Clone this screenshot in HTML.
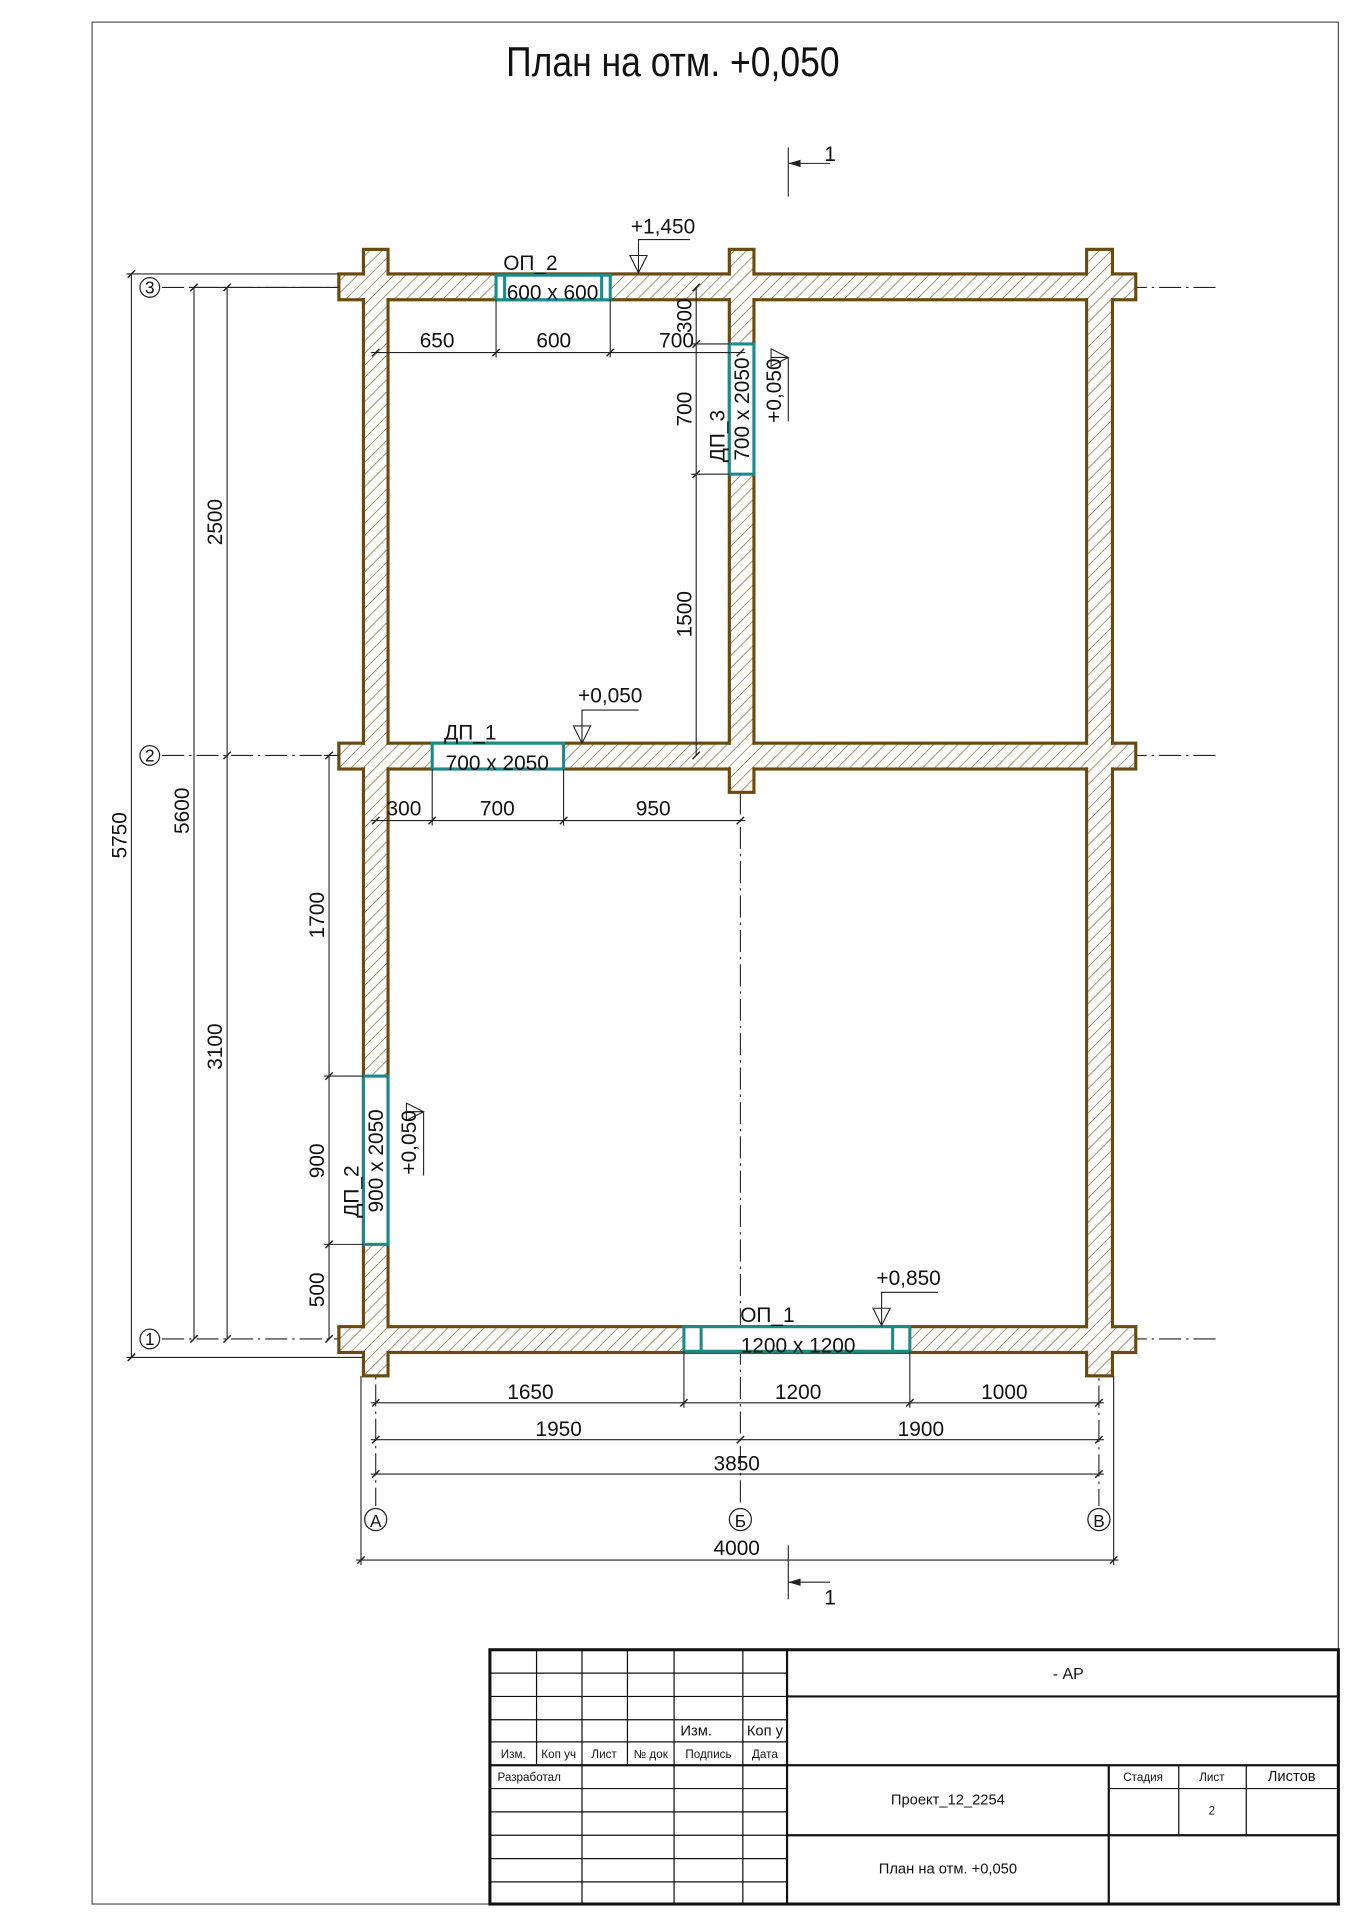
<!DOCTYPE html>
<html><head><meta charset="utf-8"><style>
html,body{margin:0;padding:0;background:#fff;}
svg{display:block;}
text{font-family:"Liberation Sans Narrow","Liberation Sans",sans-serif;fill:#111;}
</style></head><body>
<svg width="1358" height="1920" viewBox="0 0 1106 1563" xmlns="http://www.w3.org/2000/svg" preserveAspectRatio="none">
<defs>
<pattern id="h" patternUnits="userSpaceOnUse" width="7" height="7" patternTransform="rotate(45)">
<rect width="7" height="7" fill="#fff"/>
<line x1="0" y1="0" x2="0" y2="7" stroke="#7a5a1a" stroke-width="1"/>
</pattern>
</defs>
<rect x="0" y="0" width="1106" height="1563" fill="#fff"/>
<!-- frame -->
<rect x="75" y="18" width="1015" height="1532" fill="none" stroke="#555" stroke-width="1"/>
<text x="548" y="62" font-size="34" text-anchor="middle" transform="translate(548 0) scale(0.85 1) translate(-548 0)">План на отм. +0,050</text>

<!-- axis lines -->
<g stroke="#222" stroke-width="0.9" stroke-dasharray="18 4 2 4" fill="none">
<line x1="132" y1="234" x2="990" y2="234"/>
<line x1="132" y1="615" x2="990" y2="615"/>
<line x1="132" y1="1090" x2="990" y2="1090"/>
<line x1="306" y1="203" x2="306" y2="1226"/>
<line x1="603" y1="645" x2="603" y2="1226"/>
<line x1="895" y1="1100" x2="895" y2="1226"/>
</g>
<g fill="#fff" stroke="#222" stroke-width="1">
<circle cx="122" cy="234" r="8"/><circle cx="122" cy="615" r="8"/><circle cx="122" cy="1090" r="8"/>
<circle cx="306" cy="1237" r="9"/><circle cx="603" cy="1237" r="9"/><circle cx="895" cy="1237" r="9"/>
</g>
<g font-size="14" text-anchor="middle">
<text x="122" y="239">3</text><text x="122" y="620">2</text><text x="122" y="1095">1</text>
<text x="306" y="1243">А</text><text x="603" y="1243">Б</text><text x="895" y="1243">В</text>
</g>

<!-- walls -->
<g fill="url(#h)" stroke="#6b4a10" stroke-width="2.6">
<rect x="276" y="223" width="649" height="21"/>
<rect x="276" y="605" width="649" height="21"/>
<rect x="276" y="1080" width="649" height="21"/>
<rect x="296" y="203" width="20" height="917"/>
<rect x="594" y="203" width="20" height="442"/>
<rect x="885" y="203" width="21" height="917"/>
</g>
<g fill="url(#h)">
<rect x="277.4" y="224.4" width="646.2" height="18.2"/>
<rect x="277.4" y="606.4" width="646.2" height="18.2"/>
<rect x="277.4" y="1081.4" width="646.2" height="18.2"/>
<rect x="297.4" y="204.4" width="17.2" height="914.2"/>
<rect x="595.4" y="204.4" width="17.2" height="439.2"/>
<rect x="886.4" y="204.4" width="18.2" height="914.2"/>
</g>

<!-- openings -->
<g fill="#fff" stroke="#1a8a8a" stroke-width="2.5">
<rect x="404" y="224" width="93" height="20"/>
<line x1="411" y1="224" x2="411" y2="244"/><line x1="490" y1="224" x2="490" y2="244"/>
<rect x="594" y="280" width="20" height="106"/>
<rect x="352" y="605" width="107" height="21"/>
<rect x="296" y="876" width="20" height="137"/>
<rect x="557" y="1080" width="184" height="20"/>
<line x1="571" y1="1080" x2="571" y2="1100"/><line x1="727" y1="1080" x2="727" y2="1100"/>
</g>
<g font-size="17" text-anchor="middle">
<text x="432" y="220">ОП_2</text>
<text x="450" y="244">600 x 600</text>
<text x="383" y="602">ДП_1</text>
<text x="405" y="627">700 x 2050</text>
<text x="625" y="1076">ОП_1</text>
<text x="650" y="1101">1200 x 1200</text>
<text transform="translate(610 333) rotate(-90)">700 x 2050</text>
<text transform="translate(590 355) rotate(-90)">ДП_3</text>
<text transform="translate(312 945) rotate(-90)">900 x 2050</text>
<text transform="translate(292 970) rotate(-90)">ДП_2</text>
</g>

<!-- dimension lines -->
<g stroke="#222" stroke-width="0.9" fill="none">
<!-- left ext -->
<line x1="103" y1="223" x2="276" y2="223"/>
<line x1="154" y1="234" x2="276" y2="234"/>
<line x1="103" y1="1105" x2="296" y2="1105"/>
<line x1="264" y1="615" x2="276" y2="615"/>
<line x1="264" y1="876" x2="296" y2="876"/>
<line x1="264" y1="1013" x2="296" y2="1013"/>
<line x1="107" y1="223" x2="107" y2="1105"/>
<line x1="158" y1="234" x2="158" y2="1090"/>
<line x1="185" y1="234" x2="185" y2="1090"/>
<line x1="268" y1="615" x2="268" y2="1090"/>
<!-- mid vertical -->
<line x1="567" y1="234" x2="567" y2="615"/>
<line x1="563" y1="280" x2="594" y2="280"/>
<line x1="563" y1="386" x2="594" y2="386"/>
<!-- top horizontal -->
<line x1="302" y1="287" x2="607" y2="287"/>
<line x1="404" y1="244" x2="404" y2="291"/>
<line x1="497" y1="244" x2="497" y2="291"/>
<line x1="302" y1="668" x2="607" y2="668"/>
<line x1="352" y1="626" x2="352" y2="672"/>
<line x1="459" y1="626" x2="459" y2="672"/>
<!-- bottom -->
<line x1="302" y1="1142" x2="899" y2="1142"/>
<line x1="557" y1="1100" x2="557" y2="1146"/>
<line x1="741" y1="1100" x2="741" y2="1146"/>
<line x1="302" y1="1172" x2="899" y2="1172"/>
<line x1="302" y1="1200" x2="899" y2="1200"/>
<line x1="290" y1="1270" x2="911" y2="1270"/>
<line x1="294" y1="1120" x2="294" y2="1274"/>
<line x1="907" y1="1120" x2="907" y2="1274"/>
<!-- ticks -->
<g stroke-width="1.2">
<path d="M104 226l6-6M104 1108l6-6M155 237l6-6M155 1093l6-6M182 237l6-6M182 618l6-6M182 1093l6-6M265 618l6-6M265 879l6-6M265 1016l6-6M265 1093l6-6"/>
<path d="M564 237l6-6M564 283l6-6M564 389l6-6M564 618l6-6"/>
<path d="M303 290l6-6M401 290l6-6M494 290l6-6M600 290l6-6M303 671l6-6M349 671l6-6M456 671l6-6M600 671l6-6"/>
<path d="M303 1145l6-6M554 1145l6-6M738 1145l6-6M892 1145l6-6M303 1175l6-6M600 1175l6-6M892 1175l6-6M303 1203l6-6M892 1203l6-6M291 1273l6-6M904 1273l6-6"/>
</g>
<!-- section marks -->
<line x1="642" y1="120" x2="642" y2="160"/>
<line x1="642" y1="133" x2="676" y2="133"/>
<line x1="642" y1="1258" x2="642" y2="1302"/>
<line x1="642" y1="1288" x2="676" y2="1288"/>
<!-- level marks -->
<path d="M562 195H520V222M513 208h14l-7 14z"/>
<path d="M520 578H474V605M467 591h14l-7 14z"/>
<path d="M764 1052H718V1079M711 1065h14l-7 14z"/>
<path d="M642 291V343M628 291h14M628 284v14l14-7z"/>
<path d="M345 905V957M331 905h14M331 898v14l14-7z"/>
</g>
<path d="M642 133l10-3v6z M642 1288l10-3v6z" fill="#222"/>
<g font-size="17" text-anchor="middle">
<text x="676" y="131">1</text><text x="676" y="1306">1</text>
<text x="540" y="190">+1,450</text>
<text x="497" y="572">+0,050</text>
<text x="740" y="1046">+0,850</text>
<text transform="translate(636 318) rotate(-90)">+0,050</text>
<text transform="translate(339 930) rotate(-90)">+0,050</text>
<text transform="translate(103 680) rotate(-90)">5750</text>
<text transform="translate(154 660) rotate(-90)">5600</text>
<text transform="translate(181 425) rotate(-90)">2500</text>
<text transform="translate(181 852) rotate(-90)">3100</text>
<text transform="translate(264 745) rotate(-90)">1700</text>
<text transform="translate(264 945) rotate(-90)">900</text>
<text transform="translate(264 1050) rotate(-90)">500</text>
<text transform="translate(563 257) rotate(-90)">300</text>
<text transform="translate(563 333) rotate(-90)">700</text>
<text transform="translate(563 500) rotate(-90)">1500</text>
<text x="356" y="283">650</text><text x="451" y="283">600</text><text x="551" y="283">700</text>
<text x="329" y="664">300</text><text x="405" y="664">700</text><text x="532" y="664">950</text>
<text x="432" y="1139">1650</text><text x="650" y="1139">1200</text><text x="818" y="1139">1000</text>
<text x="455" y="1169">1950</text><text x="750" y="1169">1900</text>
<text x="600" y="1197">3850</text>
<text x="600" y="1266">4000</text>
</g>

<!-- title block -->
<g stroke="#111" fill="none">
<rect x="399" y="1343" width="691" height="207" stroke-width="2.5"/>
<g stroke-width="1">
<line x1="437" y1="1343" x2="437" y2="1437"/>
<line x1="474" y1="1343" x2="474" y2="1550"/>
<line x1="511" y1="1343" x2="511" y2="1437"/>
<line x1="549" y1="1343" x2="549" y2="1550"/>
<line x1="605" y1="1343" x2="605" y2="1550"/>
<line x1="399" y1="1362" x2="641" y2="1362"/>
<line x1="399" y1="1381" x2="641" y2="1381"/>
<line x1="399" y1="1400" x2="641" y2="1400"/>
<line x1="399" y1="1418" x2="641" y2="1418"/>
<line x1="399" y1="1456" x2="641" y2="1456"/>
<line x1="399" y1="1475" x2="641" y2="1475"/>
<line x1="399" y1="1494" x2="641" y2="1494"/>
<line x1="399" y1="1513" x2="641" y2="1513"/>
<line x1="399" y1="1532" x2="641" y2="1532"/>
<line x1="903" y1="1456" x2="1090" y2="1456"/>
<line x1="960" y1="1437" x2="960" y2="1494"/>
<line x1="1015" y1="1437" x2="1015" y2="1494"/>
</g>
<g stroke-width="1.8">
<line x1="641" y1="1343" x2="641" y2="1550"/>
<line x1="641" y1="1381" x2="1090" y2="1381"/>
<line x1="399" y1="1437" x2="1090" y2="1437"/>
<line x1="641" y1="1494" x2="1090" y2="1494"/>
<line x1="903" y1="1437" x2="903" y2="1550"/>
</g>
</g>
<g font-family="Liberation Sans, sans-serif" text-anchor="middle">
<text x="870" y="1367" font-size="13" style="font-family:'Liberation Sans',sans-serif">- АР</text>
<text x="567" y="1413" font-size="12" style="font-family:'Liberation Sans',sans-serif">Изм.</text>
<text x="623" y="1413" font-size="12" style="font-family:'Liberation Sans',sans-serif">Коп у</text>
<g font-size="9.5" style="font-family:'Liberation Sans',sans-serif">
<text x="418" y="1431">Изм.</text><text x="455" y="1431">Коп уч</text><text x="492" y="1431">Лист</text>
<text x="530" y="1431">№ док</text><text x="577" y="1431">Подпись</text><text x="623" y="1431">Дата</text>
<text x="931" y="1450">Стадия</text><text x="987" y="1450">Лист</text>
<text x="987" y="1477">2</text>
</g>
<text x="431" y="1450" font-size="9.5" style="font-family:'Liberation Sans',sans-serif">Разработал</text>
<text x="1052" y="1450" font-size="12" style="font-family:'Liberation Sans',sans-serif">Листов</text>
<text x="772" y="1469" font-size="12" style="font-family:'Liberation Sans',sans-serif">Проект_12_2254</text>
<text x="772" y="1525" font-size="12" style="font-family:'Liberation Sans',sans-serif">План на отм. +0,050</text>
</g>
</svg>
</body></html>
